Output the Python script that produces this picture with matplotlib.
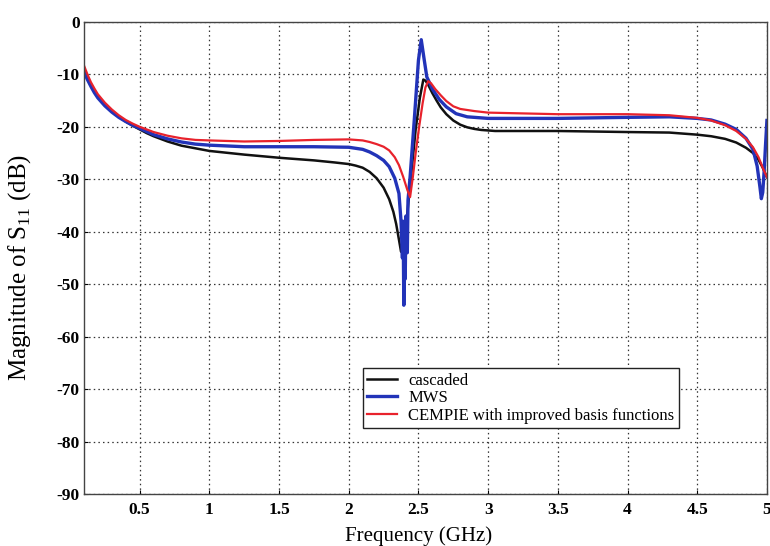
import matplotlib
matplotlib.use("Agg")
import matplotlib.pyplot as plt

# cascaded
f_casc = [0.10, 0.125, 0.15, 0.175, 0.20, 0.25, 0.30, 0.35, 0.40, 0.45, 0.50, 0.55, 0.60, 0.70,
          0.80, 0.90, 1.00, 1.25, 1.50, 1.75, 1.90, 2.00, 2.05, 2.10, 2.15, 2.20, 2.25, 2.29,
          2.32, 2.34, 2.36, 2.375, 2.39, 2.40, 2.42, 2.45, 2.48, 2.51, 2.535, 2.55, 2.57, 2.60,
          2.63, 2.66, 2.70, 2.75, 2.80, 2.85, 2.90, 2.95, 3.05, 3.50, 4.00, 4.30, 4.50, 4.60,
          4.70, 4.78, 4.85, 4.90, 4.94, 4.97, 5.00]
s_casc = [-9.0, -10.7, -12.0, -13.2, -14.3, -15.8, -17.0, -18.1, -19.0, -19.8, -20.5, -21.2, -21.8, -22.8,
          -23.6, -24.1, -24.6, -25.3, -25.9, -26.4, -26.8, -27.1, -27.4, -27.8, -28.6, -29.8, -31.6, -33.8,
          -36.2, -38.5, -41.5, -43.8, -43.5, -42.0, -36.5, -28.5, -20.5, -14.5, -11.0, -11.2, -12.0, -13.6,
          -15.0, -16.3, -17.6, -18.8, -19.6, -20.1, -20.4, -20.6, -20.8, -20.8, -21.0, -21.1, -21.5, -21.8,
          -22.3, -23.0, -24.0, -25.0, -26.3, -27.8, -29.6]

# MWS
f_mws = [0.10, 0.125, 0.15, 0.175, 0.20, 0.25, 0.30, 0.35, 0.40, 0.45, 0.50, 0.55, 0.60, 0.70,
         0.80, 0.90, 1.00, 1.25, 1.50, 1.75, 2.00, 2.10, 2.15, 2.20, 2.25, 2.29, 2.33, 2.36,
         2.375, 2.385, 2.39, 2.395, 2.40, 2.405, 2.41, 2.42, 2.425, 2.44, 2.47, 2.50, 2.52, 2.54,
         2.56, 2.60, 2.65, 2.70, 2.77, 2.85, 3.00, 3.50, 4.00, 4.30, 4.50, 4.60, 4.70, 4.78,
         4.85, 4.90, 4.93, 4.95, 4.96, 4.97, 4.98, 4.99, 5.00]
s_mws = [-9.5, -11.0, -12.3, -13.5, -14.5, -16.0, -17.2, -18.2, -19.0, -19.7, -20.3, -20.9, -21.5, -22.3,
         -22.9, -23.3, -23.5, -23.8, -23.8, -23.8, -23.9, -24.3, -24.8, -25.5, -26.4, -27.6, -29.8, -32.7,
         -38.0, -45.0, -38.0, -54.0, -40.0, -49.0, -37.0, -44.0, -34.0, -29.6, -18.7, -7.3, -3.4, -7.0,
         -10.5, -12.8, -14.8, -16.2, -17.5, -18.1, -18.4, -18.4, -18.2, -18.1, -18.4, -18.7, -19.5, -20.5,
         -22.2, -24.3, -27.5, -31.5, -33.7, -32.5, -28.5, -23.5, -18.8]

# CEMPIE with improved basis functions
f_cem = [0.10, 0.125, 0.15, 0.175, 0.20, 0.25, 0.30, 0.35, 0.40, 0.45, 0.50, 0.55, 0.60, 0.70,
         0.80, 0.90, 1.00, 1.25, 1.50, 1.75, 2.00, 2.10, 2.15, 2.20, 2.25, 2.29, 2.33, 2.36,
         2.39, 2.42, 2.44, 2.46, 2.48, 2.505, 2.53, 2.55, 2.57, 2.59, 2.62, 2.66, 2.70, 2.75,
         2.80, 2.90, 3.00, 3.50, 4.00, 4.30, 4.50, 4.60, 4.70, 4.78, 4.85, 4.90, 4.94, 4.97, 5.00]
s_cem = [-8.3, -10.0, -11.5, -12.7, -13.8, -15.4, -16.7, -17.8, -18.7, -19.4, -20.0, -20.5, -21.0, -21.7,
         -22.2, -22.5, -22.6, -22.8, -22.7, -22.5, -22.4, -22.6, -22.9, -23.3, -23.8, -24.5, -25.8, -27.3,
         -29.5, -32.0, -33.4, -29.5, -25.0, -20.0, -15.5, -12.5, -11.3, -11.7, -12.8, -14.0, -15.1, -16.1,
         -16.6, -17.0, -17.3, -17.6, -17.6, -17.8, -18.3, -18.8, -19.7, -20.8, -22.3, -23.9, -25.8, -27.8, -29.6]

x_ticks = [0.5, 1, 1.5, 2, 2.5, 3, 3.5, 4, 4.5, 5]
x_labels = ["0.5", "1", "1.5", "2", "2.5", "3", "3.5", "4", "4.5", "5"]
y_ticks = list(range(-90, 1, 10))

plt.rcParams['font.family'] = ['Liberation Serif', 'DejaVu Serif']
plt.rcParams['axes.unicode_minus'] = False
plt.rcParams['mathtext.fontset'] = 'custom'
plt.rcParams['mathtext.rm'] = 'Liberation Serif'

fig = plt.figure(figsize=(7.7, 5.46), dpi=100)
ax = fig.add_axes([0.109, 0.095, 0.887, 0.865])

ax.plot(f_casc, s_casc, color="#111111", lw=1.8, label="cascaded")
ax.plot(f_mws, s_mws, color="#2233b8", lw=2.4, label="MWS")
ax.plot(f_cem, s_cem, color="#e8222c", lw=1.6, label="CEMPIE with improved basis functions")

ax.set_xlim(0.1, 5)
ax.set_ylim(-90, 0)
ax.set_xticks(x_ticks)
ax.set_xticklabels(x_labels)
ax.set_yticks(y_ticks)
ax.tick_params(direction="in", length=3, labelsize=12.5, width=0.8)
ax.tick_params(axis="x", pad=6)
ax.tick_params(axis="y", pad=3)
for lab in ax.get_xticklabels() + ax.get_yticklabels():
    lab.set_fontweight("bold")

ax.grid(True, color="#333333", linestyle=(0, (1.2, 2.5)), linewidth=0.9)
for sp in ax.spines.values():
    sp.set_linewidth(1.0)
    sp.set_color("#444444")

ax.set_xlabel("Frequency (GHz)", fontsize=15, labelpad=6)
ax.xaxis.set_label_coords(0.49, -0.068, transform=ax.transAxes)
ax.xaxis.label.set_va("top")
ax.set_ylabel("Magnitude of S$_{11}$ (dB)", fontsize=18)
ax.yaxis.set_label_coords(-0.074, 0.479)

leg = ax.legend(loc="lower left", bbox_to_anchor=(0.408, 0.14), fontsize=12,
                frameon=True, fancybox=False, edgecolor="#222222", framealpha=1,
                handlelength=1.8, handletextpad=0.7, borderpad=0.25,
                labelspacing=0.1, borderaxespad=0)
leg.get_frame().set_linewidth(1.0)

fig.savefig("out.png", dpi=100)
